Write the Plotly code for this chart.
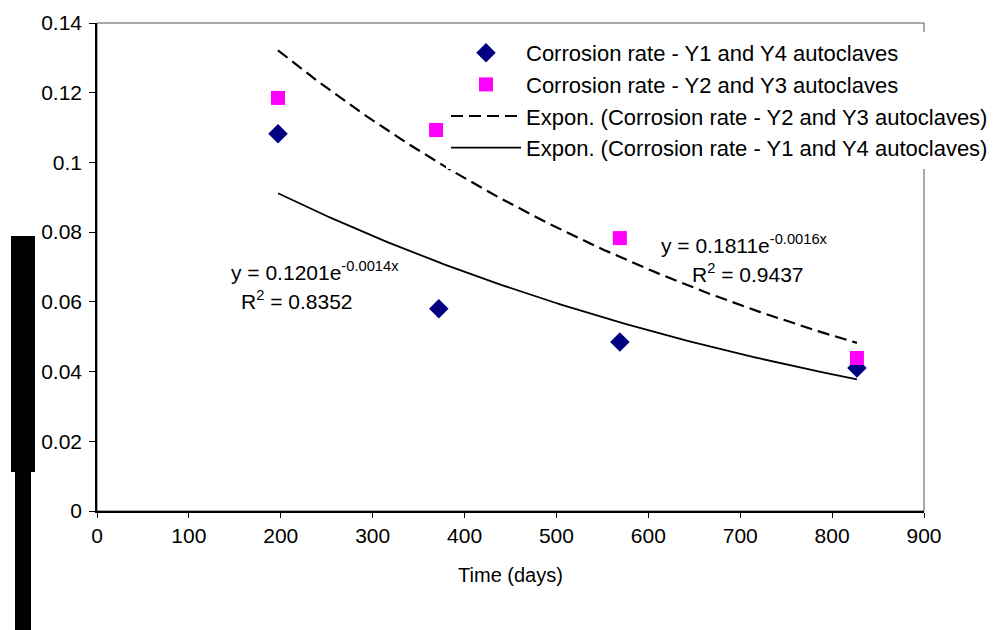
import numpy as np
import plotly.graph_objects as go

# Data
days_y1y4 = [197, 372, 569, 827]
rate_y1y4 = [0.1082, 0.0580, 0.0485, 0.0410]
days_y2y3 = [197, 369, 569, 827]
rate_y2y3 = [0.1185, 0.1093, 0.0783, 0.0439]

# Exponential trendline coefficients as printed on the chart
fit_y1y4 = (0.1201, -0.0014)
fit_y2y3 = (0.1811, -0.0016)
fit_range = (197, 827)

x_ticks = [0, 100, 200, 300, 400, 500, 600, 700, 800, 900]
y_ticks = [0, 0.02, 0.04, 0.06, 0.08, 0.1, 0.12, 0.14]

FONT = "Liberation Sans, Arial, sans-serif"
W, H = 994, 630
L, R, T, B = 97, 924, 23, 511

xs = np.linspace(fit_range[0], fit_range[1], 120)
trend_a = fit_y1y4[0] * np.exp(fit_y1y4[1] * xs)
trend_b = fit_y2y3[0] * np.exp(fit_y2y3[1] * xs)

fig = go.Figure()
fig.add_trace(go.Scatter(
    x=days_y1y4, y=rate_y1y4, mode="markers",
    name="Corrosion rate - Y1 and Y4 autoclaves",
    marker=dict(symbol="diamond", size=15, color="#000080"),
))
fig.add_trace(go.Scatter(
    x=days_y2y3, y=rate_y2y3, mode="markers",
    name="Corrosion rate - Y2 and Y3 autoclaves",
    marker=dict(symbol="square", size=14, color="#FF00FF"),
))
fig.add_trace(go.Scatter(
    x=xs, y=trend_b, mode="lines",
    name="Expon. (Corrosion rate - Y2 and Y3 autoclaves)",
    line=dict(color="black", width=2.2, dash="12px,6px"),
))
fig.add_trace(go.Scatter(
    x=xs, y=trend_a, mode="lines",
    name="Expon. (Corrosion rate - Y1 and Y4 autoclaves)",
    line=dict(color="black", width=1.8),
))

def px2paper(px, py):
    return (px - L) / (R - L), (B - py) / (B - T)

shapes = [
    dict(type="rect", xref="paper", yref="paper", x0=0, y0=0, x1=1, y1=1,
         line=dict(color="#555555", width=1), layer="below"),
]
# black bar on the left side of the figure
for (x0, y0, x1, y1) in [(11, 236, 35, 472), (15, 472, 31, 632)]:
    a0, b0 = px2paper(x0, y1)
    a1, b1 = px2paper(x1, y0)
    shapes.append(dict(type="rect", xref="paper", yref="paper",
                       x0=a0, y0=b0, x1=a1, y1=b1,
                       fillcolor="black", line=dict(width=0), layer="above"))

annotations = []
for (cx, cy, txt) in [
    (315, 271, "y = %.4fe<sup>%.4fx</sup>" % fit_y1y4),
    (297, 300, "R<sup>2</sup> = 0.8352"),
    (744, 244, "y = %.4fe<sup>%.4fx</sup>" % fit_y2y3),
    (748, 273, "R<sup>2</sup> = 0.9437"),
]:
    ax, ay = px2paper(cx, cy)
    annotations.append(dict(x=ax, y=ay, xref="paper", yref="paper",
                            text=txt, showarrow=False,
                            font=dict(family=FONT, size=21, color="black"),
                            xanchor="center", yanchor="middle"))

lx, ly = px2paper(446, 32)

fig.update_layout(
    width=W, height=H,
    margin=dict(l=L, r=W - R, t=T, b=H - B, autoexpand=False),
    paper_bgcolor="white", plot_bgcolor="white",
    font=dict(family=FONT, size=20, color="black"),
    showlegend=True,
    legend=dict(x=lx, y=ly, xanchor="left", yanchor="top",
                bgcolor="white", borderwidth=0,
                font=dict(family=FONT, size=22, color="black"),
                itemwidth=70, tracegroupgap=0),
    xaxis=dict(range=[0, 900], tickvals=x_ticks,
               ticktext=[str(v) for v in x_ticks],
               showgrid=False, zeroline=False,
               showline=True, linecolor="black", linewidth=1.5,
               ticks="outside", ticklen=5, tickcolor="black",
               tickfont=dict(family=FONT, size=21),
               title=dict(text="Time (days)", font=dict(family=FONT, size=20),
                          standoff=22)),
    yaxis=dict(range=[0, 0.14], tickvals=y_ticks,
               ticktext=[("%g" % v) for v in y_ticks],
               showgrid=False, zeroline=False,
               showline=True, linecolor="black", linewidth=1.5,
               ticks="outside", ticklen=6, tickcolor="black",
               ticklabelstandoff=3,
               tickfont=dict(family=FONT, size=21)),
    shapes=shapes,
    annotations=annotations,
)

fig.write_html("out.html")
